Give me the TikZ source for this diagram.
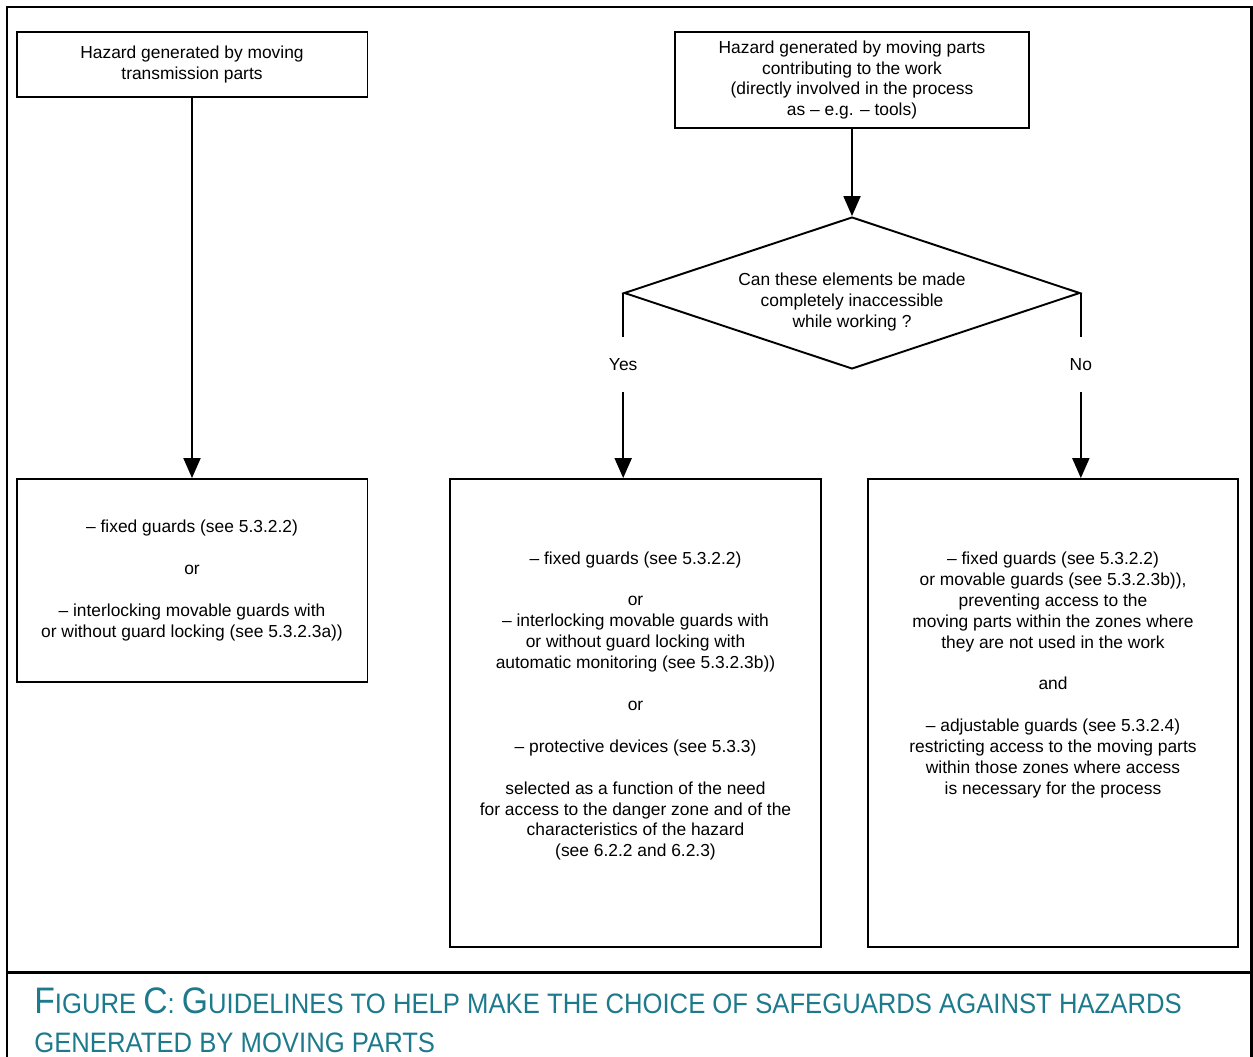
\documentclass[tikz,border=0pt]{standalone}
\usepackage{fontspec}
\setmainfont{Liberation Sans}
\usepackage{xcolor}
\usepackage{graphicx}
\usepackage{tikz}
\usetikzlibrary{positioning,arrows.meta,shapes.geometric}
\definecolor{capc}{HTML}{1D7A8C}
\newcommand{\bigc}[1]{{\fontsize{21}{26}\selectfont #1}}

\begin{document}
\begin{tikzpicture}[x=0.02cm, y=-0.02cm, font=\fontsize{9.9}{11.9}\selectfont,
  box/.style={draw, line width=1.1pt, align=center, inner sep=0pt},
  txt/.style={align=center, inner sep=0pt},
  arr/.style={line width=1.1pt, -{Triangle[length=0.4cm,width=0.34cm]}},
  frame/.style={line width=1.7pt}]
  \useasboundingbox (0,0) rectangle (1253,1057);
  % frame and caption rule
  \draw[frame] (7,1057) -- (7,7) -- (1251,7) -- (1251,1057);
  \draw[frame] (7,972) -- (1251,972);
  % top boxes
  \node[box, minimum width=7.02cm, minimum height=1.30cm] (hzTrans) at (192,64.5)
     {Hazard generated by moving\\transmission parts};
  \node[box, minimum width=7.08cm, minimum height=1.92cm] (hzWork) at (852,80)
     {Hazard generated by moving parts\\contributing to the work\\(directly involved in the process\\as -- e.g. -- tools)};
  \node[draw, diamond, shape aspect=3, line width=1.1pt, inner sep=0pt, align=center,
     minimum width=9.04cm, minimum height=3.0cm] (access) at (852,293)
     {\rule{0pt}{17.5pt}Can these elements be made\\completely inaccessible\\while working ?};
  % result boxes
  \node[box, minimum width=7.02cm, minimum height=4.06cm] (safeTrans) at (192,580.5)
     {-- fixed guards (see 5.3.2.2)\\[11.9pt]or\\[11.9pt]-- interlocking movable guards with\\or without guard locking (see 5.3.2.3a))};
  \node[box, minimum width=7.42cm, minimum height=9.36cm] (safeYes) at (635.5,713) {};
  \node[box, minimum width=7.40cm, minimum height=9.36cm] (safeNo) at (1053,713) {};
  \node[txt] (txtYes) at (635.5,706)
     {-- fixed guards (see 5.3.2.2)\\[11.9pt]or\\-- interlocking movable guards with\\or without guard locking with\\automatic monitoring (see 5.3.2.3b))\\[11.9pt]or\\[11.9pt]-- protective devices (see 5.3.3)\\[11.9pt]selected as a function of the need\\for access to the danger zone and of the\\characteristics of the hazard\\(see 6.2.2 and 6.2.3)};
  \node[txt] (txtNo) at (1053,675)
     {-- fixed guards (see 5.3.2.2)\\or movable guards (see 5.3.2.3b)),\\preventing access to the\\moving parts within the zones where\\they are not used in the work\\[11.9pt]and\\[11.9pt]-- adjustable guards (see 5.3.2.4)\\restricting access to the moving parts\\within those zones where access\\is necessary for the process};
  % branch labels
  \coordinate (lblY) at (0,364.5);
  \node[txt, minimum height=1.1cm] (yes) at (access.west |- lblY) {Yes};
  \node[txt, minimum height=1.1cm] (no) at (access.east |- lblY) {No};
  % connectors
  \draw[arr] (hzTrans.south) -- (safeTrans.north);
  \draw[arr] (hzWork.south) -- (access.north);
  \draw[line width=1.1pt] (access.west) -- (yes.north);
  \draw[line width=1.1pt] (access.east) -- (no.north);
  \draw[arr] (yes.south) -- (yes.south |- safeYes.north);
  \draw[arr] (no.south) -- (no.south |- safeNo.north);
  % caption
  \node[anchor=north west, inner sep=0pt, text=capc, font=\fontsize{16}{22.2}\selectfont] (caption) at (34,985.5)
     {\scalebox{0.913}[1]{\begin{tabular}{@{}l@{}}\bigc{F}IGURE \bigc{C}: \bigc{G}UIDELINES TO HELP MAKE THE CHOICE OF SAFEGUARDS AGAINST HAZARDS\\GENERATED BY MOVING PARTS\end{tabular}}};
\end{tikzpicture}
\end{document}
